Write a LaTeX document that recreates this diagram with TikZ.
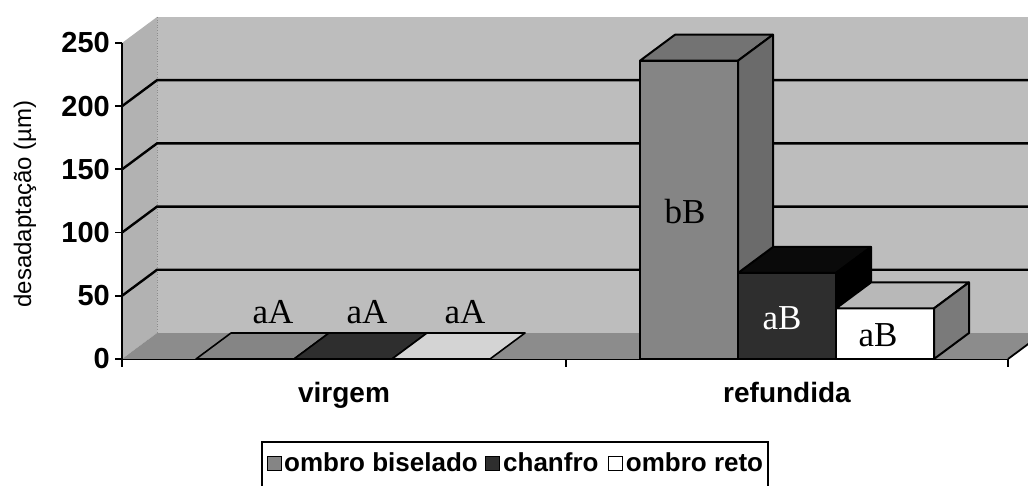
\documentclass[tikz,border=0pt]{standalone}
\usepackage{fontspec}
\setmainfont{Liberation Sans}
\newfontfamily\barfont{Liberation Serif}
\definecolor{wallc}{gray}{0.74}
\definecolor{sidewallc}{gray}{0.70}
\definecolor{floorc}{gray}{0.55}
\definecolor{gfront}{gray}{0.52}
\definecolor{gtop}{gray}{0.45}
\definecolor{gside}{gray}{0.42}
\definecolor{kfront}{gray}{0.18}
\definecolor{ktop}{gray}{0.04}
\definecolor{kside}{gray}{0.0}
\definecolor{wfront}{gray}{1.0}
\definecolor{wtop}{gray}{0.72}
\definecolor{wside}{gray}{0.48}
\tikzset{
  edge/.style={draw=black, line width=2pt, line join=round},
  grid/.style={draw=black, line width=2.4pt},
  axisline/.style={draw=black, line width=1.8pt},
  ticklab/.style={font=\bfseries\fontsize{29}{30}\selectfont, anchor=east, inner sep=0pt},
  catlab/.style={font=\bfseries\fontsize{28}{30}\selectfont, anchor=base, inner sep=0pt},
  barlab/.style={font=\barfont\fontsize{35}{36}\selectfont, inner sep=0pt},
  leglab/.style={font=\bfseries\fontsize{26}{28}\selectfont, anchor=base west, inner sep=0pt},
  legsq/.style={draw=black, line width=1pt, minimum size=14pt, inner sep=0pt, anchor=south west}
}
% bar: #1 x-left, #2 y-top, #3 front, #4 top, #5 side
\newcommand\drawbar[5]{%
  \filldraw[edge, fill=#3] (#1,359) rectangle (#1+98,#2);
  \filldraw[edge, fill=#4] (#1,#2) -- (#1+35,#2-26) -- (#1+133,#2-26) -- (#1+98,#2) -- cycle;
  \filldraw[edge, fill=#5] (#1+98,#2) -- (#1+133,#2-26) -- (#1+133,333) -- (#1+98,359) -- cycle;
}
% flat bar at zero: #1 x-left, #2 fill
\newcommand\flatbar[2]{%
  \filldraw[draw=black, line width=1.6pt, line join=round, fill=#2] (#1,359) -- (#1+35,333) -- (#1+133,333) -- (#1+98,359) -- cycle;
}
\begin{document}
\begin{tikzpicture}[x=1pt,y=-1pt]
\useasboundingbox (0,0) rectangle (1028,486);
\fill[white] (0,0) rectangle (1028,486);
% walls
\fill[wallc] (157,17) rectangle (1050,333);
\fill[sidewallc] (122,43) -- (157,17) -- (157,333) -- (122,359) -- cycle;
\draw[black!45, line width=0.6pt, dotted] (157,17) -- (157,333);
\fill[floorc] (122,359) -- (157,333) -- (1043,333) -- (1008,359) -- cycle;
\draw[axisline] (1008,359) -- (1043,333);
% grid lines
\foreach \yy in {295.8,232.6,169.4,106.2}
  \draw[grid] (122,\yy) -- (157,\yy-26) -- (1050,\yy-26);
% bars: virgem
\flatbar{196}{gfront}
\flatbar{294}{kfront}
\flatbar{392}{wtop!60!white}
% bars: refundida
\drawbar{640}{60.7}{gfront}{gtop}{gside}
\drawbar{738}{273.0}{kfront}{ktop}{kside}
\drawbar{836}{308.4}{wfront}{wtop}{wside}
% axes
\draw[axisline] (122,43) -- (122,360);
\draw[axisline] (121,359.5) -- (1008,359.5);
\foreach \yy/\lab in {359/0,295.8/50,232.6/100,169.4/150,106.2/200,43/250}{
  \draw[axisline] (115,\yy) -- (122,\yy);
  \node[ticklab] (t\lab) at (110,\yy) {\lab};
}
\foreach \xx in {122,566,1008}
  \draw[axisline] (\xx,359) -- (\xx,367);
% axis title
\node[rotate=90, font=\fontsize{24}{26}\selectfont, inner sep=0pt] (ytitle) at (25,204) {desadaptação (µm)};
% category labels
\node[catlab] (cv) at (344,402) {virgem};
\node[catlab] (cr) at (787,402) {refundida};
% bar labels
\node[barlab] (l1) at (273,312) {aA};
\node[barlab] (l2) at (367,312) {aA};
\node[barlab] (l3) at (465,312) {aA};
\node[barlab] (l4) at (685,212) {bB};
\node[barlab, text=white] (l5) at (782,318) {aB};
\node[barlab] (l6) at (878,335) {aB};
% legend
\draw[black, line width=1.6pt] (262,490) -- (262,442) -- (768,442) -- (768,490);
\node[legsq, fill=gfront] (s1) at (267,471) {};
\node[leglab] (e1) at (284,471) {ombro biselado};
\node[legsq, fill=kfront] (s2) at ([xshift=7pt]e1.base east) {};
\node[leglab] (e2) at ([xshift=3pt]s2.south east) {chanfro};
\node[legsq, fill=white] (s3) at ([xshift=9pt]e2.base east) {};
\node[leglab] (e3) at ([xshift=3pt]s3.south east) {ombro reto};
\end{tikzpicture}
\end{document}
